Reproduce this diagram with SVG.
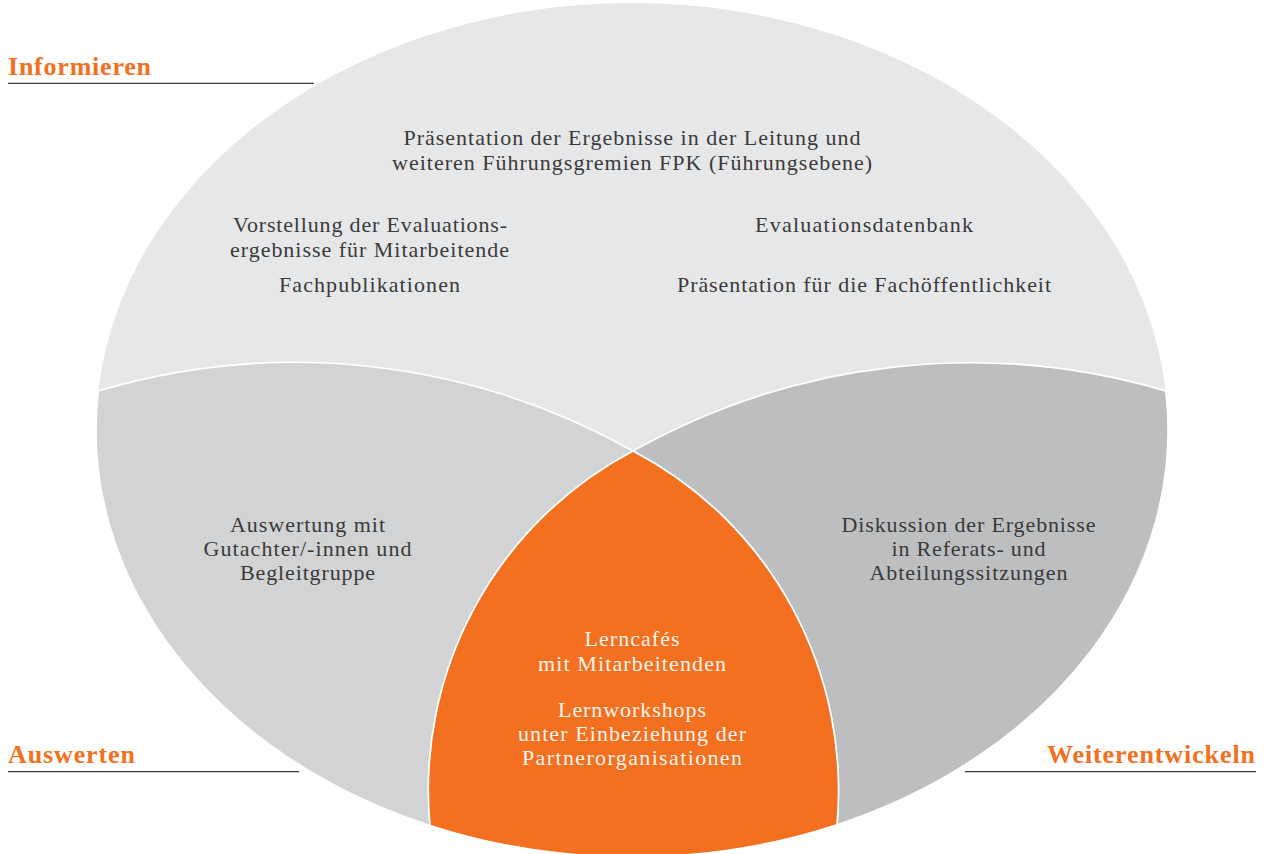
<svg xmlns="http://www.w3.org/2000/svg" width="1270" height="854" viewBox="0 0 1270 854">
  <style>
    .region { stroke: #ffffff; stroke-width: 1.6; stroke-linejoin: round; }
    .txt { font-family: "Liberation Serif", "Times New Roman", serif; font-size: 22px; fill: #3a3a3b; text-anchor: middle; }
    .txt-light { font-family: "Liberation Serif", "Times New Roman", serif; font-size: 22px; fill: #fff3ea; text-anchor: middle; }
    .label { font-family: "Liberation Serif", "Times New Roman", serif; font-size: 26px; font-weight: bold; fill: #f37021; }
    .rule { stroke: #3c3c3c; stroke-width: 1.2; }
  </style>

  <rect width="1270" height="854" fill="#ffffff"/>

  <!-- Upper field: whole ellipse, the other fields are laid over it -->
  <g id="region-informieren">
    <ellipse cx="632" cy="430" rx="536" ry="427" fill="#e6e7e8"/>
    <text class="txt" x="632" y="145" textLength="457" lengthAdjust="spacing">Präsentation der Ergebnisse in der Leitung und</text>
    <text class="txt" x="632" y="170" textLength="480" lengthAdjust="spacing">weiteren Führungsgremien FPK (Führungsebene)</text>
    <text class="txt" x="370" y="232" textLength="274" lengthAdjust="spacing">Vorstellung der Evaluations-</text>
    <text class="txt" x="369.5" y="256.5" textLength="279" lengthAdjust="spacing">ergebnisse für Mitarbeitende</text>
    <text class="txt" x="369.5" y="292" textLength="181" lengthAdjust="spacing">Fachpublikationen</text>
    <text class="txt" x="864" y="232" textLength="218" lengthAdjust="spacing">Evaluationsdatenbank</text>
    <text class="txt" x="864" y="292" textLength="374" lengthAdjust="spacing">Präsentation für die Fachöffentlichkeit</text>
  </g>

  <!-- Lower left field -->
  <g id="region-auswerten">
    <path class="region" fill="#d1d3d4" d="M98.2,391 A690,690 0 0 1 633,451 A383,383 0 0 0 430,825.4 A536,427 0 0 1 98.2,391 Z"/>
    <text class="txt" x="307.5" y="531.5" textLength="155" lengthAdjust="spacing">Auswertung mit</text>
    <text class="txt" x="307.5" y="555.5" textLength="208" lengthAdjust="spacing">Gutachter/-innen und</text>
    <text class="txt" x="307.5" y="579.5" textLength="135" lengthAdjust="spacing">Begleitgruppe</text>
  </g>

  <!-- Lower right field -->
  <g id="region-weiterentwickeln">
    <path class="region" fill="#bcbec0" d="M1165.8,391 A690,690 0 0 0 633,451 A383,383 0 0 1 837,824.7 A536,427 0 0 0 1165.8,391 Z"/>
    <text class="txt" x="968.5" y="531.5" textLength="254" lengthAdjust="spacing">Diskussion der Ergebnisse</text>
    <text class="txt" x="968.5" y="555.5" textLength="154" lengthAdjust="spacing">in Referats- und</text>
    <text class="txt" x="968.5" y="579.5" textLength="198" lengthAdjust="spacing">Abteilungssitzungen</text>
  </g>

  <!-- Centre field -->
  <g id="region-lernen">
    <path class="region" fill="#f37021" d="M633,451 A383,383 0 0 1 837,824.7 A536,427 0 0 1 430,825.4 A383,383 0 0 1 633,451 Z"/>
    <text class="txt-light" x="632" y="646" textLength="95" lengthAdjust="spacing">Lerncafés</text>
    <text class="txt-light" x="632" y="670.5" textLength="188" lengthAdjust="spacing">mit Mitarbeitenden</text>
    <text class="txt-light" x="632" y="716.5" textLength="148" lengthAdjust="spacing">Lernworkshops</text>
    <text class="txt-light" x="632" y="741" textLength="228" lengthAdjust="spacing">unter Einbeziehung der</text>
    <text class="txt-light" x="632" y="765" textLength="220" lengthAdjust="spacing">Partnerorganisationen</text>
  </g>

  <!-- Section headings with rules -->
  <g id="label-informieren">
    <text class="label" x="8" y="75" textLength="143" lengthAdjust="spacing">Informieren</text>
    <line class="rule" x1="8" y1="83.3" x2="314" y2="83.3"/>
  </g>
  <g id="label-auswerten">
    <text class="label" x="8" y="763.3" textLength="127" lengthAdjust="spacing">Auswerten</text>
    <line class="rule" x1="8" y1="771.6" x2="299" y2="771.6"/>
  </g>
  <g id="label-weiterentwickeln">
    <text class="label" x="1047" y="763.3" textLength="208" lengthAdjust="spacing">Weiterentwickeln</text>
    <line class="rule" x1="965" y1="771.6" x2="1256" y2="771.6"/>
  </g>
</svg>
